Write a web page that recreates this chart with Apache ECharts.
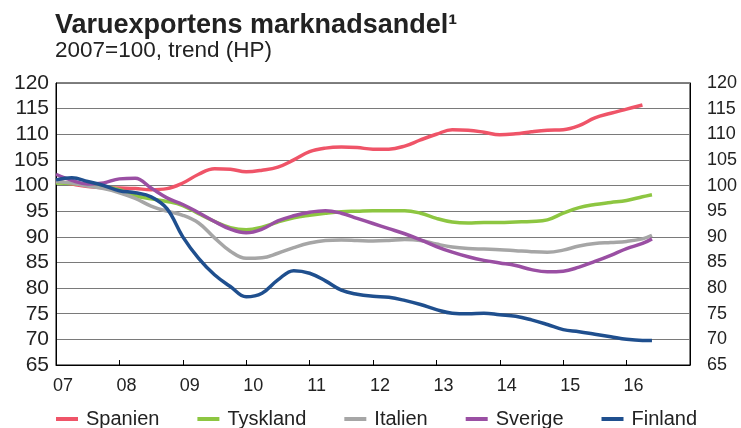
<!DOCTYPE html>
<html>
<head>
<meta charset="utf-8">
<script src="https://cdn.jsdelivr.net/npm/echarts@6/dist/echarts.min.js"></script>
<style>
  html, body { margin: 0; padding: 0; background: #fff; }
  #chart { width: 741px; height: 428px; }
</style>
</head>
<body>
<div id="chart"></div>
<script>
// Quarterly time positions (decimal years), last point is the end of the trend
var quarters = [
  2007.0, 2007.25, 2007.5, 2007.75, 2008.0, 2008.25, 2008.5, 2008.75,
  2009.0, 2009.25, 2009.5, 2009.75, 2010.0, 2010.25, 2010.5, 2010.75,
  2011.0, 2011.25, 2011.5, 2011.75, 2012.0, 2012.25, 2012.5, 2012.75,
  2013.0, 2013.25, 2013.5, 2013.75, 2014.0, 2014.25, 2014.5, 2014.75,
  2015.0, 2015.25, 2015.5, 2015.75, 2016.0, 2016.25, 2016.4
];
var yearLabels = ["07", "08", "09", "10", "11", "12", "13", "14", "15", "16"];
var seriesNames = ["Spanien", "Tyskland", "Italien", "Sverige", "Finland"];

var spanien = [
  100.9, 100.3, 99.8, 99.6, 99.5, 99.4, 99.2, 99.4,
  100.5, 102.2, 103.3, 103.2, 102.7, 103.0, 103.6, 105.0,
  106.6, 107.3, 107.5, 107.4, 107.1, 107.1, 107.7, 108.9,
  110.0, 110.9, 110.8, 110.4, 109.9, 110.1, 110.5, 110.8,
  110.9, 111.7, 113.2, 114.1, 114.9, 115.7
];
var tyskland = [
  100.5, 100.4, 100.1, 99.7, 99.2, 98.0, 97.4, 96.9,
  96.1, 94.5, 93.0, 91.8, 91.4, 91.9, 92.9, 93.7,
  94.2, 94.6, 94.9, 95.0, 95.1, 95.1, 95.1, 94.6,
  93.6, 92.9, 92.7, 92.8, 92.8, 92.9, 93.0, 93.3,
  94.6, 95.7, 96.3, 96.7, 97.1, 97.8, 98.2
];
var italien = [
  100.8, 100.5, 99.9, 99.4, 98.6, 97.5, 96.0, 95.0,
  94.2, 92.7, 89.8, 87.2, 85.8, 85.9, 86.8, 87.9,
  88.8, 89.3, 89.4, 89.3, 89.2, 89.3, 89.5, 89.3,
  88.6, 88.0, 87.7, 87.6, 87.5, 87.3, 87.1, 87.0,
  87.4, 88.2, 88.7, 88.9, 89.1, 89.6, 90.3
];
var sverige = [
  102.2, 101.0, 100.3, 100.5, 101.3, 101.4, 99.5, 97.6,
  96.3, 94.7, 93.0, 91.5, 90.8, 91.5, 93.1, 94.1,
  94.8, 95.1, 94.6, 93.6, 92.6, 91.6, 90.6, 89.4,
  88.1, 87.0, 86.1, 85.4, 84.9, 84.4, 83.6, 83.2,
  83.3, 84.1, 85.2, 86.4, 87.7, 88.7, 89.6
];
var finland = [
  101.1, 101.5, 100.8, 100.0, 99.0, 98.6, 97.8, 95.5,
  90.0, 85.8, 82.6, 80.3, 78.3, 79.0, 81.6, 83.4,
  82.9, 81.4, 79.6, 78.8, 78.4, 78.2, 77.6, 76.8,
  75.8, 75.1, 75.0, 75.1, 74.8, 74.5, 73.8, 72.9,
  71.9, 71.5, 71.0, 70.5, 70.0, 69.8, 69.8
];

var colors = ["#ef5468", "#8dc641", "#a6a6a6", "#9a4fa3", "#1f4f8e"];
var font = "Liberation Sans, Arial, sans-serif";

function pairs(values) {
  return values.map(function (v, i) {
    return [quarters[i], v];
  });
}

var chart = echarts.init(document.getElementById("chart"));

var yAxisBase = {
  type: "value",
  min: 65,
  max: 120,
  interval: 5,
  axisLine: { show: true, lineStyle: { color: "#000", width: 1 } },
  axisTick: { show: false },
  axisLabel: { color: "#222", fontSize: 18, fontFamily: font }
};

chart.setOption({
  animation: false,
  title: {
    text: "Varuexportens marknadsandel\u00b9",
    subtext: "2007=100, trend (HP)",
    left: 50,
    top: 7,
    itemGap: 0,
    textStyle: { color: "#222", fontSize: 27, fontWeight: "bold", fontFamily: font },
    subtextStyle: { color: "#222", fontSize: 22.5, fontFamily: font }
  },
  grid: {
    left: 56,
    top: 83,
    width: 634,
    height: 282,
    show: true,
    borderColor: "#000",
    borderWidth: 1
  },
  legend: {
    left: 51,
    top: 404,
    itemWidth: 22,
    itemHeight: 4,
    itemGap: 38,
    icon: "rect",
    textStyle: { color: "#222", fontSize: 20, fontFamily: font, padding: [0, 0, 0, 3] },
    data: seriesNames
  },
  xAxis: {
    type: "value",
    min: 2007,
    max: 2017,
    interval: 1,
    axisLine: { lineStyle: { color: "#000", width: 1 } },
    axisTick: { show: true, inside: true, length: 5, lineStyle: { color: "#000" } },
    splitLine: { show: false },
    axisLabel: {
      color: "#222",
      fontSize: 18,
      fontFamily: font,
      margin: 12,
      padding: [0, 0, 0, 14],
      formatter: function (v) {
        var i = Math.round(v) - 2007;
        return yearLabels[i] || "";
      }
    }
  },
  yAxis: [
    Object.assign({}, yAxisBase, {
      position: "left",
      splitLine: { show: true, lineStyle: { color: "#7a7a7a", width: 1 } },
      axisLabel: Object.assign({}, yAxisBase.axisLabel, { margin: 7, fontSize: 21 })
    }),
    Object.assign({}, yAxisBase, {
      position: "right",
      splitLine: { show: false },
      axisLabel: Object.assign({}, yAxisBase.axisLabel, { margin: 17 })
    })
  ],
  series: [spanien, tyskland, italien, sverige, finland].map(function (vals, i) {
    return {
      name: seriesNames[i],
      type: "line",
      data: pairs(vals),
      smooth: 0.4,
      showSymbol: false,
      color: colors[i],
      lineStyle: { width: 3.5, color: colors[i] }
    };
  })
});
</script>
</body>
</html>
